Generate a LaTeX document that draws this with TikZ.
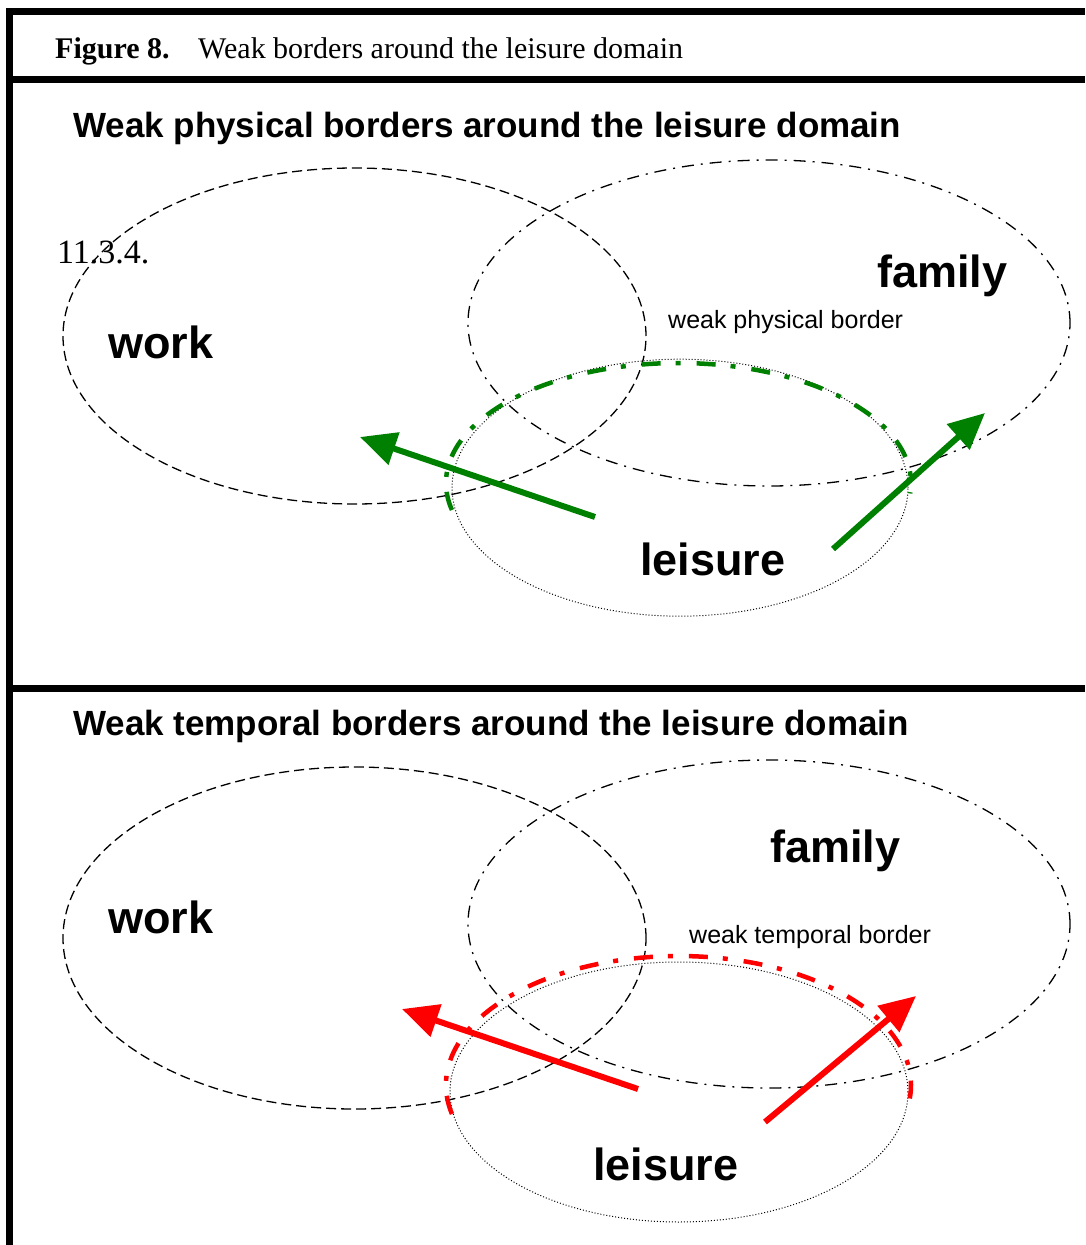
\documentclass[tikz,border=0pt]{standalone}
\usepackage{fontspec}
\setmainfont{Liberation Serif}
\setsansfont{Liberation Sans}
\usetikzlibrary{arrows.meta,shapes.geometric}
\definecolor{leafgreen}{RGB}{0,128,0}
\definecolor{alarmred}{RGB}{255,0,0}

\begin{document}
\begin{tikzpicture}[x=1pt, y=-1pt,
  rule/.style={line width=7pt},
  workset/.style={draw, ellipse, inner sep=0pt, line width=1.3pt, dash pattern=on 10pt off 5pt},
  famset/.style={draw, ellipse, inner sep=0pt, line width=1.3pt, dash pattern=on 12pt off 7pt on 2pt off 7pt},
  leisset/.style={draw, ellipse, inner sep=0pt, line width=1pt, dash pattern=on 1pt off 2pt},
  border/.style={line width=4.5pt, dash pattern=on 19pt off 15pt on 5pt off 16pt},
  arr/.style={-{Triangle[length=36pt,width=33pt]}, line width=6pt},
  realm/.style={font=\sffamily\bfseries\fontsize{45}{50}\selectfont, inner sep=0pt, anchor=base west},
  heading/.style={font=\sffamily\bfseries\fontsize{35}{40}\selectfont, inner sep=0pt, anchor=base west},
  note/.style={font=\sffamily\fontsize{25}{30}\selectfont, inner sep=0pt, anchor=base west}
]
\useasboundingbox (0,0) rectangle (1085,1245);
% frame
\draw[rule] (9.7,8.2) -- (9.7,1245);
\draw[rule] (6.2,11.7) -- (1085,11.7);
\draw[rule] (6.2,79.7) -- (1085,79.7);
\draw[rule] (6.2,688.3) -- (1085,688.3);
\node[font=\fontsize{30}{36}\selectfont, inner sep=0pt, anchor=base west] (caption) at (55,58)
  {\makebox[143pt][l]{\textbf{Figure 8.}}Weak borders around the leisure domain};

% physical borders
\node[heading] (head1) at (73,137) {Weak physical borders around the leisure domain};
\node[workset, minimum width=583pt, minimum height=336pt] (work1) at (354.5,336) {};
\node[famset, minimum width=602pt, minimum height=326pt] (family1) at (769,323) {};
\node[leisset, minimum width=456pt, minimum height=257pt] (leisure1) at (680,487.7) {};
\node[font=\fontsize{34}{40}\selectfont, inner sep=0pt, anchor=base west] (secnum) at (57,263) {11.3.4.};
\node[realm] (worklab1) at (108,358) {work};
\node[realm] (famlab1) at (877,287) {family};
\node[realm] (leislab1) at (640,575) {leisure};
\node[note] (weak1) at (668,328) {weak physical border};
\draw[border, leafgreen] (678.5,483) ++(167:232.5 and 120) arc[start angle=167, end angle=365, x radius=232.5, y radius=120];
\coordinate (g1a) at (595,517);
\coordinate (g1b) at (360,437);
\coordinate (g2a) at (833,549);
\coordinate (g2b) at (985,413);
\draw[arr, leafgreen] (g1a) -- (g1b);
\draw[arr, leafgreen] (g2a) -- (g2b);

% temporal borders
\node[heading] (head2) at (73,735) {Weak temporal borders around the leisure domain};
\node[workset, minimum width=583pt, minimum height=342pt] (work2) at (354.5,938) {};
\node[famset, minimum width=602pt, minimum height=328pt] (family2) at (769,924) {};
\node[leisset, minimum width=458pt, minimum height=260pt] (leisure2) at (679,1092) {};
\node[realm] (worklab2) at (108,933) {work};
\node[realm] (famlab2) at (770,862) {family};
\node[realm] (leislab2) at (593,1180) {leisure};
\node[note] (weak2) at (689,943) {weak temporal border};
\draw[border, alarmred] (678.5,1085) ++(167:232.5 and 129) arc[start angle=167, end angle=366, x radius=232.5, y radius=129];
\coordinate (r1a) at (638,1089);
\coordinate (r1b) at (402,1009);
\coordinate (r2a) at (765,1122);
\coordinate (r2b) at (916,996);
\draw[arr, alarmred] (r1a) -- (r1b);
\draw[arr, alarmred] (r2a) -- (r2b);
\end{tikzpicture}
\end{document}
